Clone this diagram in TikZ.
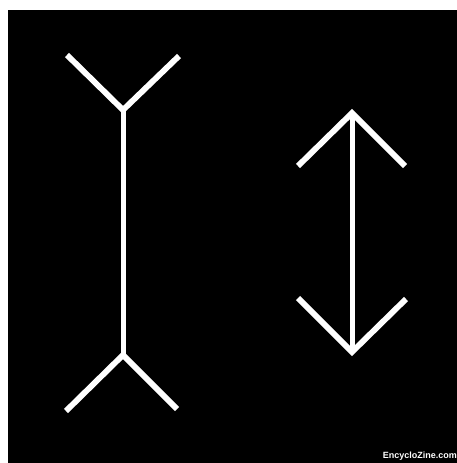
\documentclass[tikz,border=0pt]{standalone}
\usepackage{fontspec}
\setmainfont{Liberation Sans}
\begin{document}
\begin{tikzpicture}[x=1pt,y=-1pt,
  bar/.style={draw=white,line width=5pt,line cap=butt,line join=miter},
  fin/.style={draw=white,line width=5.8pt,line cap=butt,line join=miter},
  wmtext/.style={text=white,font=\bfseries\fontsize{9}{9}\selectfont,inner sep=0pt,anchor=base east}]
\useasboundingbox (0,0) rectangle (457,463);
\fill[white] (0,0) rectangle (457,463);
\fill[black] (8,10) rectangle (457,463);
% left figure
\coordinate (lt) at (123,110);
\coordinate (lb) at (123,355);
\coordinate (lta) at (67,55);
\coordinate (ltb) at (179,56);
\coordinate (lba) at (66,411);
\coordinate (lbb) at (177,409);
\draw[bar] (lt) -- (lb);
\draw[fin] (lta) -- (lt) -- (ltb);
\draw[fin] (lba) -- (lb) -- (lbb);
% right figure
\coordinate (rt) at (352,113);
\coordinate (rb) at (352,352);
\coordinate (rta) at (298,166);
\coordinate (rtb) at (405,166);
\coordinate (rba) at (298,298);
\coordinate (rbb) at (406,299);
\draw[bar] (rt) -- (rb);
\draw[fin] (rta) -- (rt) -- (rtb);
\draw[fin] (rba) -- (rb) -- (rbb);
\node[wmtext] (wm) at (457,458) {EncycloZine.com};
\end{tikzpicture}
\end{document}
